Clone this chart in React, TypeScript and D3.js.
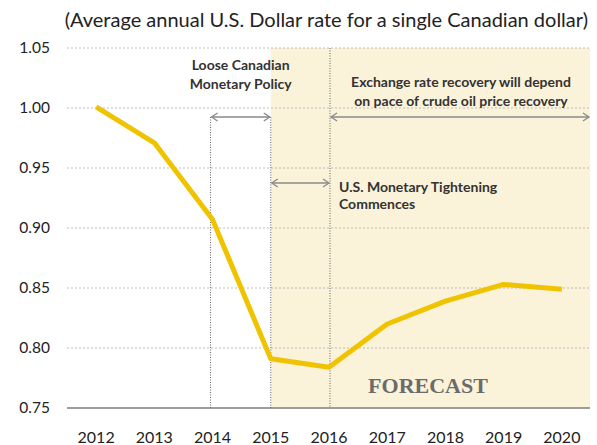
import React from "react";
import * as d3 from "d3";

const years = ["2012", "2013", "2014", "2015", "2016", "2017", "2018", "2019", "2020"];
const rates = [1.001, 0.971, 0.907, 0.791, 0.784, 0.82, 0.839, 0.853, 0.849];
const yTicks = [0.75, 0.8, 0.85, 0.9, 0.95, 1.0, 1.05];
const title = "(Average annual U.S. Dollar rate for a single Canadian dollar)";
const forecastStart = "2015";
const looseLines = ["Loose Canadian", "Monetary Policy"];
const recoveryLines = ["Exchange rate recovery will depend", "on pace of crude oil price recovery"];
const tighteningLines = ["U.S. Monetary Tightening", "Commences"];

const W = 597;
const H = 445;
const left = 67;
const right = 591;
const top = 48;
const bottom = 408;
const font = "Lato, 'Open Sans', sans-serif";

export default function App() {
  const x = d3.scalePoint<string>().domain(years).range([left, right]).padding(0.5);
  const y = d3.scaleLinear().domain([0.75, 1.05]).range([bottom, top]);
  const line = d3
    .line<number>()
    .x((_, i) => x(years[i]) as number)
    .y((d) => y(d));

  const x14 = x("2014") as number;
  const x15 = x(forecastStart) as number;
  const x16 = x("2016") as number;
  const arrowY1 = 117;
  const arrowY2 = 183;

  const arrow = (x1: number, x2: number, yy: number) => (
    <g stroke="#8a8a8a" strokeWidth={1.3} fill="none">
      <line x1={x1 + 1} x2={x2 - 1} y1={yy} y2={yy} />
      <polyline points={`${x1 + 7},${yy - 4} ${x1 + 1},${yy} ${x1 + 7},${yy + 4}`} />
      <polyline points={`${x2 - 7},${yy - 4} ${x2 - 1},${yy} ${x2 - 7},${yy + 4}`} />
    </g>
  );

  return (
    <svg width={W} height={H} style={{ position: "absolute", left: 0, top: 0 }}>
      <rect x={0} y={0} width={W} height={H} fill="#fff" />
      <rect x={x15} y={top} width={590 - x15} height={bottom - top} fill="#FBF2DA" />
      {yTicks.slice(1).map((t) => (
        <line key={t} x1={left} x2={590} y1={y(t)} y2={y(t)} stroke="#bdbdbd" strokeWidth={1} strokeDasharray="2,2" />
      ))}
      <line x1={left} x2={590} y1={bottom} y2={bottom} stroke="#7f7f7f" strokeWidth={1.3} />
      {yTicks.map((t) => (
        <text key={t} x={50} y={y(t) + 5} textAnchor="end" fontFamily={font} fontSize={15.5} fill="#222">
          {t.toFixed(2)}
        </text>
      ))}
      {years.map((yr) => (
        <text key={yr} x={x(yr) as number} y={443} textAnchor="middle" fontFamily={font} fontSize={16} fill="#222">
          {yr}
        </text>
      ))}
      <g stroke="#666" strokeWidth={1} strokeDasharray="1,1.5">
        <line x1={x14 - 2} x2={x14 - 2} y1={arrowY1} y2={bottom} />
        <line x1={x15} x2={x15} y1={arrowY1} y2={bottom} />
        <line x1={x16 + 1} x2={x16 + 1} y1={top} y2={bottom} />
      </g>
      {arrow(x14 - 2, x15, arrowY1)}
      {arrow(x16 + 1, 590, arrowY1)}
      {arrow(x15, x16 + 1, arrowY2)}
      <path d={line(rates) ?? ""} fill="none" stroke="#F0C300" strokeWidth={5} strokeLinejoin="round" />
      <text x={588} y={27} textAnchor="end" fontFamily={font} fontSize={20} fill="#222">
        {title}
      </text>
      {looseLines.map((s, i) => (
        <text key={s} x={(x14 + x15) / 2 - 1} y={70 + i * 19} textAnchor="middle" fontFamily={font} fontWeight={700} fontSize={14} fill="#333">
          {s}
        </text>
      ))}
      {recoveryLines.map((s, i) => (
        <text key={s} x={461} y={87 + i * 18.5} textAnchor="middle" fontFamily={font} fontWeight={700} fontSize={14} fill="#333">
          {s}
        </text>
      ))}
      {tighteningLines.map((s, i) => (
        <text key={s} x={339} y={192 + i * 17} fontFamily={font} fontWeight={700} fontSize={14} fill="#333">
          {s}
        </text>
      ))}
      <text x={428} y={393} textAnchor="middle" fontFamily="'Liberation Serif', serif" fontWeight={700} fontSize={22} fill="#6b6b6b">
        FORECAST
      </text>
    </svg>
  );
}
